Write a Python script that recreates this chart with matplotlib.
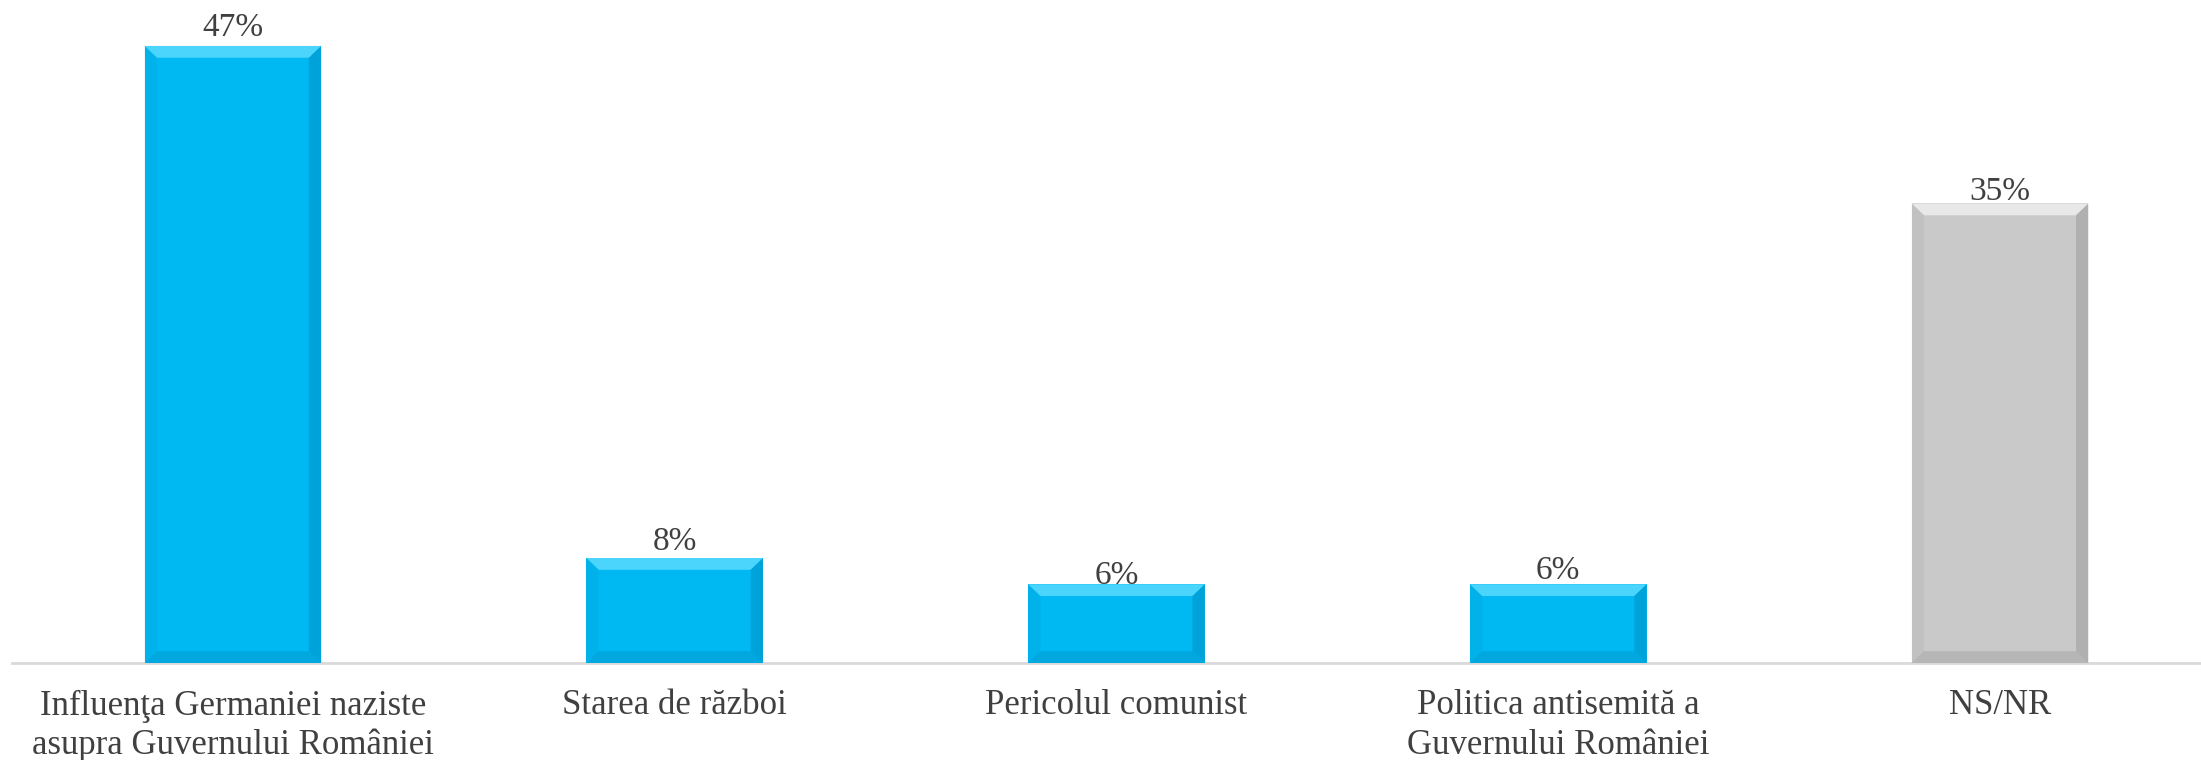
import numpy as np
import matplotlib.pyplot as plt
from matplotlib.patches import Polygon

categories = ["Influenţa Germaniei naziste\nasupra Guvernului României",
              "Starea de război",
              "Pericolul comunist",
              "Politica antisemită a\nGuvernului României",
              "NS/NR"]
values = [47, 8, 6, 6, 35]
colors = ['#00B8F2', '#00B8F2', '#00B8F2', '#00B8F2', '#C9C9C9']
light = ['#5FDCFF', '#5FDCFF', '#5FDCFF', '#5FDCFF', '#F0F0F0']
dark = ['#0085B5', '#0085B5', '#0085B5', '#0085B5', '#8C8C8C']
label_offsets = [10, 8, 0, 5, 3]  # px above bar, as in the original

plt.rcParams['font.family'] = ['Liberation Serif', 'DejaVu Serif']
txt = '#404040'

fig = plt.figure(figsize=(22.01, 7.6), dpi=100)
ax = fig.add_axes([0.00545, 0.1276, 1.0036, 0.8638])

x = np.arange(len(values))
bars = ax.bar(x, values, width=0.4, color=colors, edgecolor='none', zorder=2)

# simple bevel look
for b, lc, dc in zip(bars, light, dark):
    x0, w, h = b.get_x(), b.get_width(), b.get_height()
    bx = w * 0.07
    by = min(0.9, h * 0.15)
    ax.add_patch(Polygon([(x0, h), (x0 + w, h), (x0 + w - bx, h - by), (x0 + bx, h - by)],
                         closed=True, color=lc, lw=0, alpha=0.8, zorder=3))
    ax.add_patch(Polygon([(x0 + w, h), (x0 + w, 0), (x0 + w - bx, by), (x0 + w - bx, h - by)],
                         closed=True, color=dc, lw=0, alpha=0.4, zorder=3))
    ax.add_patch(Polygon([(x0, 0), (x0 + w, 0), (x0 + w - bx, by), (x0 + bx, by)],
                         closed=True, color=dc, lw=0, alpha=0.3, zorder=3))
    ax.add_patch(Polygon([(x0, h), (x0, 0), (x0 + bx, by), (x0 + bx, h - by)],
                         closed=True, color=dc, lw=0, alpha=0.12, zorder=3))

for b, v, off in zip(bars, values, label_offsets):
    ax.annotate(f"{v}%", (b.get_x() + b.get_width() / 2, v),
                xytext=(0, off), textcoords='offset pixels',
                ha='center', va='baseline', fontsize=24, color=txt, zorder=4)

ax.set_xlim(-0.5, 4.5)
ax.set_ylim(0, 50)
ax.set_xticks(x)
ax.set_xticklabels(categories, fontsize=25, color=txt, linespacing=1.25)
ax.tick_params(axis='x', length=0, pad=19)
ax.set_yticks([])
for s in ['top', 'right', 'left']:
    ax.spines[s].set_visible(False)
ax.spines['bottom'].set_color('#D9D9D9')
ax.spines['bottom'].set_linewidth(2)
ax.spines['bottom'].set_zorder(1)

fig.savefig('out.png', dpi=100)
